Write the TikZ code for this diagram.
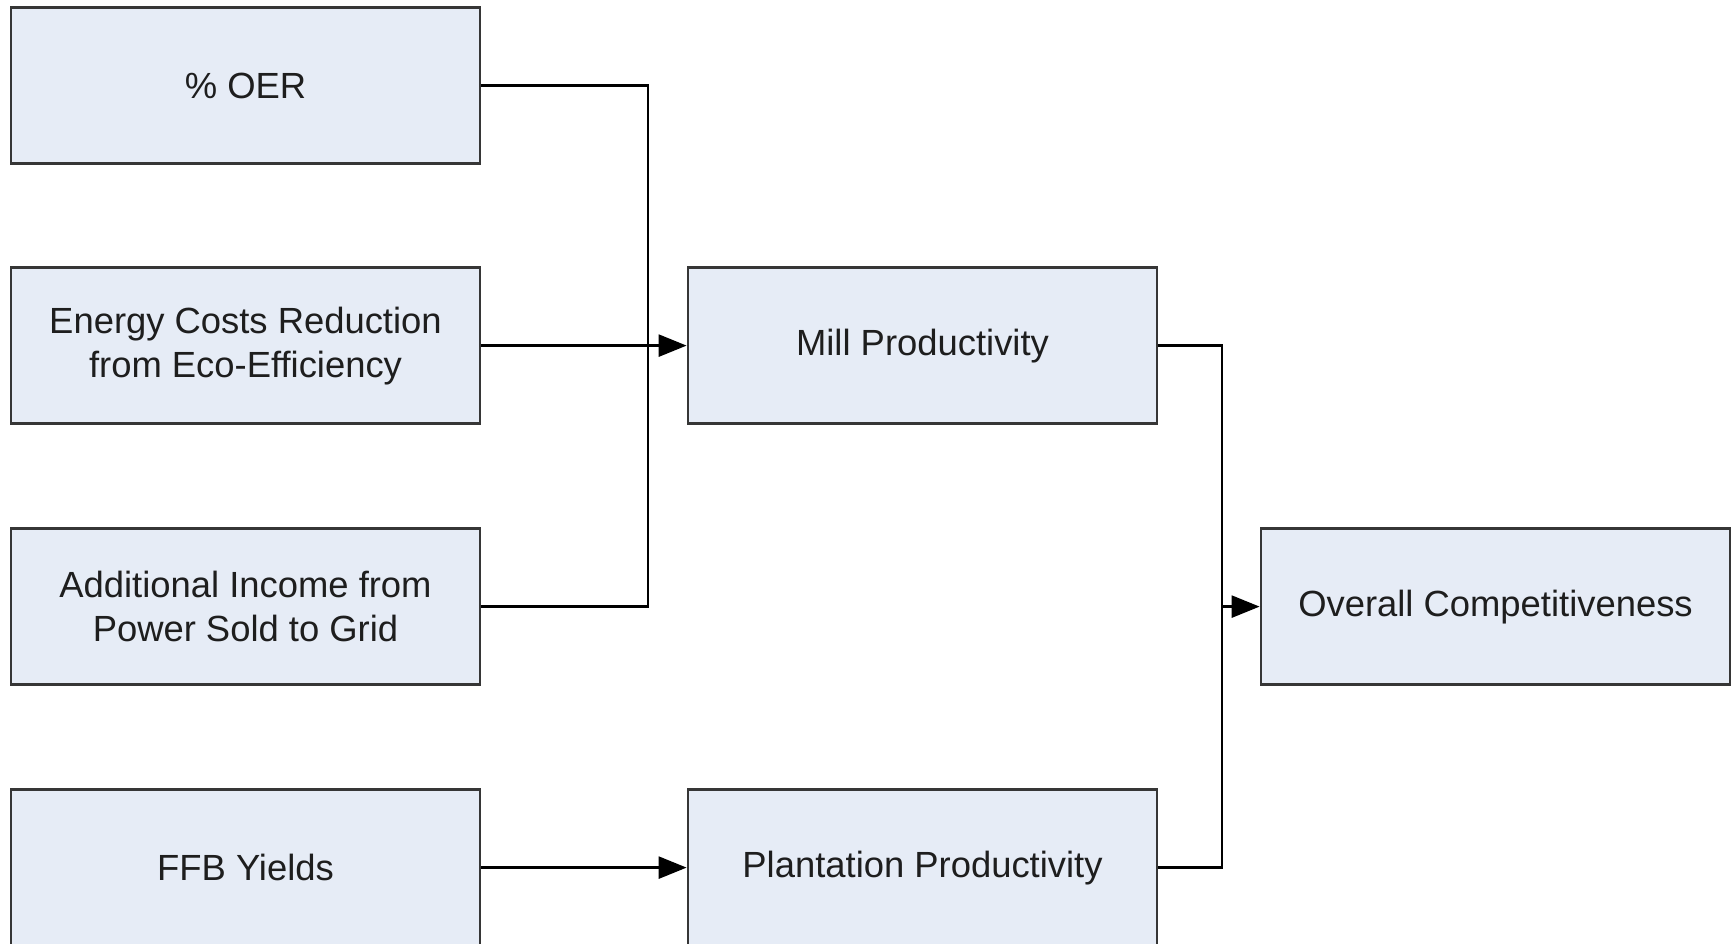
\documentclass[tikz,border=0pt]{standalone}
\usepackage{fontspec}
\setmainfont{Liberation Sans}
\usetikzlibrary{arrows.meta}
\definecolor{boxfill}{HTML}{E6ECF6}
\definecolor{boxline}{HTML}{363636}
\definecolor{txt}{HTML}{1E1E1E}
\begin{document}
\begin{tikzpicture}[x=1pt,y=-1pt,
  block/.style={draw=boxline, line width=2.8pt, fill=boxfill, rectangle,
    minimum width=469pt, minimum height=156pt, inner sep=0pt,
    align=center, text=txt, font=\fontsize{36.4}{44}\selectfont},
  link/.style={line width=2.6pt, draw=black},
  tip/.style={link, -{Triangle[length=28pt,width=22pt]}}]
\useasboundingbox (0,0) rectangle (1734,943);
% input factors
\node[block] (oer)  at (245.5,85.7)  {\% OER};
\node[block] (ener) at (245.5,345.6) {Energy Costs Reduction\\from Eco-Efficiency};
\node[block] (addi) at (245.5,606.6) {Additional Income from\\Power Sold to Grid};
\node[block] (ffb)  at (245.5,867.6) {FFB Yields};
% productivity levels
\node[block] (mill) at (922.5,345.6) {Mill Productivity};
\node[block] (plan) at (922.5,867.6) {Plantation Productivity};
% outcome
\node[block] (over) at (1495.5,606.6) {Overall Competitiveness};
% junction points on the collecting lines
\coordinate (jmill) at (648,345.6);
\coordinate (jover) at (1222,606.6);
\draw[link] (oer.east) -| (jmill);
\draw[link] (addi.east) -| (jmill);
\draw[tip] (ener.east) -- (mill.west);
\draw[tip] (ffb.east) -- (plan.west);
\draw[link] (mill.east) -| (jover);
\draw[link] (plan.east) -| (jover);
\draw[tip] (jover) -- (over.west);
\end{tikzpicture}
\end{document}
